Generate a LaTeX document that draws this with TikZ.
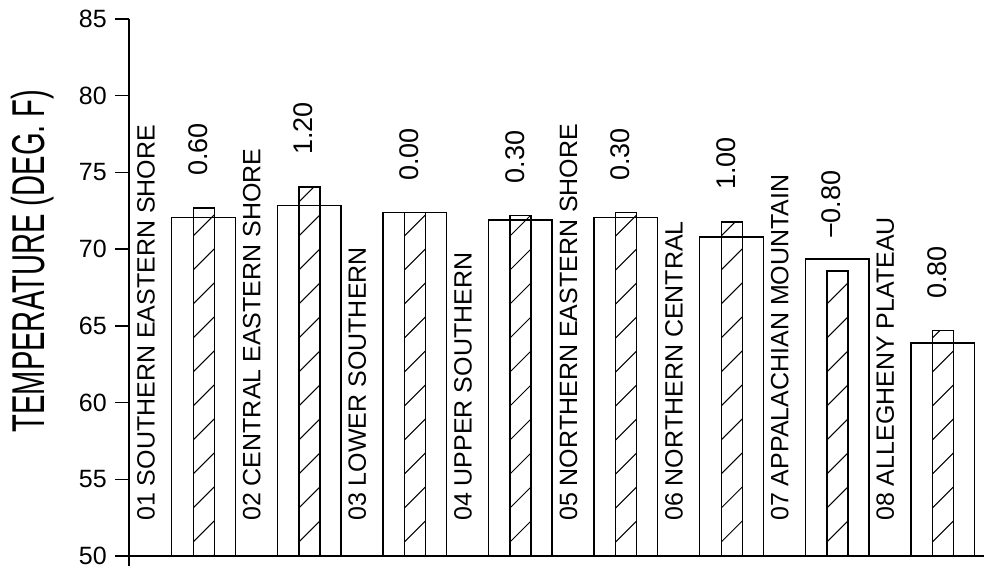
\documentclass[tikz,border=0pt]{standalone}
\usepackage{fontspec}
\setmainfont{Liberation Sans}
\usepackage{graphicx}
\begin{document}
\begin{tikzpicture}[x=1pt,y=-1pt,
  declare function={yv(\v)=556-(\v-50)*15.343;},
  axisline/.style={line width=1.5pt},
  barbox/.style={draw,line width=1.4pt},
  hatchline/.style={line width=1.0pt},
  ticklabel/.style={font=\fontsize{25}{25}\selectfont,anchor=east,inner sep=0pt},
  catlabel/.style={font=\fontsize{25}{25}\selectfont,rotate=90,anchor=base west,inner sep=0pt},
  vallabel/.style={font=\fontsize{27}{27}\selectfont,rotate=90,anchor=base west,inner sep=0pt},
  titlelabel/.style={rotate=90,inner sep=0pt}]
\useasboundingbox (0,0) rectangle (986,569);
\fill[white] (0,0) rectangle (986,569);
% axis
\coordinate (axtop) at (129,19);
\coordinate (axbot) at (129,566);
\coordinate (baseL) at (115,556);
\coordinate (baseR) at (984,556);
\draw[axisline] (axtop) -- (axbot);
\draw[axisline] (baseL) -- (baseR);
\foreach \t in {50,55,...,85}{
  \coordinate (tk\t) at (129,{yv(\t)});
  \draw[axisline] (tk\t) -- ++(-14,0);
  \node[ticklabel] (tl\t) at (107,{yv(\t)}) {\t};
}
\node[titlelabel] (title) at (33,261) {\scalebox{0.634}[1]{\fontsize{46}{46}\selectfont TEMPERATURE (DEG.~F)}};
% bars
\foreach \i/\v/\d/\cat/\lab in {
 1/72.07/0.60/{01 SOUTHERN EASTERN SHORE}/{0.60},
 2/72.86/1.20/{02 CENTRAL EASTERN SHORE}/{1.20},
 3/72.37/0.00/{03 LOWER SOUTHERN}/{0.00},
 4/71.90/0.30/{04 UPPER SOUTHERN}/{0.30},
 5/72.07/0.30/{05 NORTHERN EASTERN SHORE}/{0.30},
 6/70.78/1.00/{06 NORTHERN CENTRAL}/{1.00},
 7/69.37/-0.80/{07 APPALACHIAN MOUNTAIN}/{−0.80},
 8/63.88/0.80/{08 ALLEGHENY PLATEAU}/{0.80}}
{
 \pgfmathsetmacro{\L}{171.7+105.6*(\i-1)}
 \pgfmathsetmacro{\yw}{yv(\v)}
 \pgfmathsetmacro{\yh}{yv((\v)+(\d))}
 \draw[barbox] (\L,556) rectangle (\L+63.5,\yw);
 \begin{scope}
  \clip (\L+21.5,556) rectangle (\L+42.5,\yh);
  \foreach \k in {-1,...,12}
    \draw[hatchline] (\L+21.5,{542-34*\k}) -- (\L+42.5,{521-34*\k});
 \end{scope}
 \draw[barbox] (\L+21.5,556) rectangle (\L+42.5,\yh);
 \node[catlabel] (cat\i) at (\L-17,521) {\cat};
 \node[vallabel] (val\i) at (\L+35.5,\yh-32) {\lab};
}
\end{tikzpicture}
\end{document}
